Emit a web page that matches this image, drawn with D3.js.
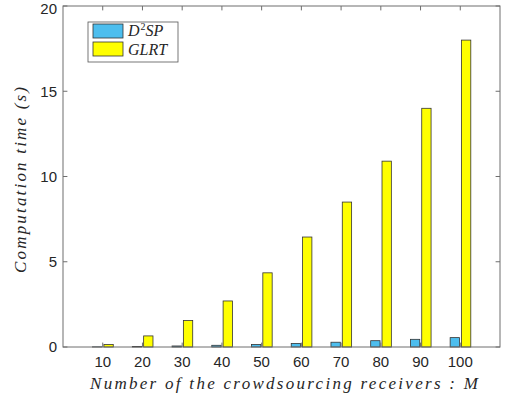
<!DOCTYPE html>
<html>
<head>
<meta charset="utf-8">
<script src="https://cdn.jsdelivr.net/npm/d3@7"></script>
<style>
  body { margin: 0; background: #fff; }
  svg { display: block; }
</style>
</head>
<body>
<script>
// data
const receivers = [10, 20, 30, 40, 50, 60, 70, 80, 90, 100]
const d2sp = [0.01, 0.03, 0.06, 0.1, 0.15, 0.21, 0.28, 0.37, 0.45, 0.55]
const glrt = [0.15, 0.65, 1.55, 2.7, 4.35, 6.45, 8.5, 10.9, 14.0, 18.0]
const yTicks = [0, 5, 10, 15, 20]
const seriesNames = ['D2SP', 'GLRT']

const W = 506, H = 398
const plotLeft = 63, plotRight = 500, plotTop = 6, plotBottom = 347
const axisColor = '#6e6e6e'
const textColor = '#262626'
const BLUE = '#4dbeee'
const YELLOW = '#ffff00'

const svg = d3.select('body').append('svg')
    .attr('width', W)
    .attr('height', H)

const x = d3.scaleLinear().domain([0, 110]).range([plotLeft, plotRight])
const y = d3.scaleLinear().domain([0, 20]).range([plotBottom, plotTop])

// bars: blue left of the category, yellow right of it
const barW = 2.35
const offsets = [-2.55, 0.3]
const series = [
    { name: seriesNames[0], values: d2sp, color: BLUE },
    { name: seriesNames[1], values: glrt, color: YELLOW }
]

series.forEach((s, si) => {
    svg.append('g').selectAll('rect')
        .data(receivers.map((r, i) => ({ r, v: s.values[i] })))
        .join('rect')
        .attr('x', d => x(d.r + offsets[si]))
        .attr('width', d => x(d.r + offsets[si] + barW) - x(d.r + offsets[si]))
        .attr('y', d => y(d.v))
        .attr('height', d => y(0) - y(d.v))
        .attr('fill', s.color)
        .attr('stroke', '#333')
        .attr('stroke-width', 0.8)
})

// box and ticks
const tl = 4.4
const axes = svg.append('g')
    .attr('stroke', axisColor)
    .attr('fill', 'none')
axes.append('rect')
    .attr('x', plotLeft).attr('y', plotTop)
    .attr('width', plotRight - plotLeft).attr('height', plotBottom - plotTop)

yTicks.forEach(t => {
    axes.append('line').attr('x1', plotLeft).attr('x2', plotLeft + tl).attr('y1', y(t)).attr('y2', y(t))
    axes.append('line').attr('x1', plotRight).attr('x2', plotRight - tl).attr('y1', y(t)).attr('y2', y(t))
})
receivers.forEach(r => {
    axes.append('line').attr('x1', x(r)).attr('x2', x(r)).attr('y1', plotBottom).attr('y2', plotBottom - tl)
    axes.append('line').attr('x1', x(r)).attr('x2', x(r)).attr('y1', plotTop).attr('y2', plotTop + tl)
})

// tick labels (top one nudged down so it stays inside the page)
svg.append('g').selectAll('text')
    .data(yTicks)
    .join('text')
    .attr('x', plotLeft - 6)
    .attr('y', d => Math.max(y(d), 9))
    .attr('dy', '0.35em')
    .attr('text-anchor', 'end')
    .attr('font-family', 'Liberation Sans, Arial, sans-serif')
    .attr('font-size', 15)
    .attr('fill', textColor)
    .text(d => d)

svg.append('g').selectAll('text')
    .data(receivers)
    .join('text')
    .attr('x', d => x(d))
    .attr('y', plotBottom + 20)
    .attr('text-anchor', 'middle')
    .attr('font-family', 'Liberation Sans, Arial, sans-serif')
    .attr('font-size', 15)
    .attr('fill', textColor)
    .text(d => d)

// axis titles
svg.append('text')
    .attr('x', 284)
    .attr('y', 389)
    .attr('text-anchor', 'middle')
    .attr('font-family', 'Liberation Serif, serif')
    .attr('font-style', 'italic')
    .attr('font-size', 17)
    .attr('fill', textColor)
    .attr('textLength', 388)
    .attr('lengthAdjust', 'spacing')
    .text('Number of the crowdsourcing receivers :  M')

svg.append('text')
    .attr('transform', 'translate(26,180) rotate(-90)')
    .attr('text-anchor', 'middle')
    .attr('font-family', 'Liberation Serif, serif')
    .attr('font-style', 'italic')
    .attr('font-size', 17)
    .attr('fill', textColor)
    .attr('textLength', 186)
    .attr('lengthAdjust', 'spacing')
    .text('Computation time (s)')

// legend
const lg = svg.append('g')
lg.append('rect')
    .attr('x', 88).attr('y', 22)
    .attr('width', 90).attr('height', 40)
    .attr('fill', '#fff')
    .attr('stroke', '#555')
    .attr('stroke-width', 0.8)
series.forEach((s, i) => {
    const yy = 24 + i * 18
    lg.append('rect')
        .attr('x', 93).attr('y', yy)
        .attr('width', 30).attr('height', 14)
        .attr('fill', s.color)
        .attr('stroke', '#333')
        .attr('stroke-width', 0.8)
})
const lt = lg.append('text')
    .attr('x', 128).attr('y', 36)
    .attr('font-family', 'Liberation Serif, serif')
    .attr('font-style', 'italic')
    .attr('font-size', 16)
    .attr('fill', textColor)
lt.append('tspan').text('D')
lt.append('tspan').attr('font-style', 'normal').attr('font-size', 10).attr('dy', -6).attr('dx', 1).text('2')
lt.append('tspan').attr('dy', 6).text('SP')
lg.append('text')
    .attr('x', 128).attr('y', 55)
    .attr('font-family', 'Liberation Serif, serif')
    .attr('font-style', 'italic')
    .attr('font-size', 16)
    .attr('fill', textColor)
    .text('GLRT')
</script>
</body>
</html>
